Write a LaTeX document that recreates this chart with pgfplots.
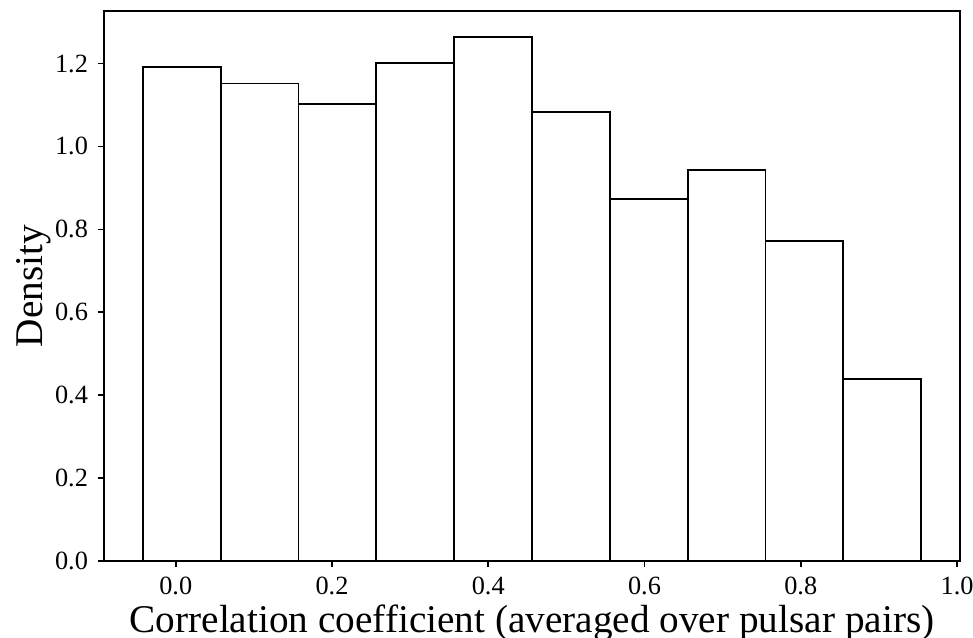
\documentclass[border=0pt]{standalone}
\usepackage{pgfplots}
\pgfplotsset{compat=1.18}
\usepackage{fontspec}
\setmainfont{Liberation Serif}
\begin{document}
\begin{tikzpicture}
\useasboundingbox (-52bp,-38.5bp) rectangle (434.5bp,280.5bp);
\begin{axis}[
  at={(0,0)}, anchor=south west,
  scale only axis,
  width=428bp, height=275bp,
  xmin=-0.0918, xmax=1.0038,
  ymin=0, ymax=1.3267,
  axis line style={line width=0.9bp},
  xtick={0,0.2,0.4,0.6,0.8,1.0},
  ytick={0,0.2,0.4,0.6,0.8,1.0,1.2},
  xtick pos=bottom, ytick pos=left,
  tick align=outside,
  major tick length=3bp,
  tick style={line width=0.8bp, black},
  /pgf/number format/assume math mode=true,
  /pgf/number format/fixed,
  /pgf/number format/fixed zerofill,
  /pgf/number format/precision=1,
  tick label style={font=\fontsize{13.2}{14}\selectfont},
  xticklabel style={yshift=-1.5bp},
  yticklabel style={xshift=-1.5bp},
  xlabel={Correlation coefficient (averaged over pulsar pairs)},
  ylabel={Density},
  every axis x label/.style={at={(axis description cs:0.5,0)}, anchor=base, yshift=-35.5bp, font=\fontsize{19.7}{22}\selectfont, inner sep=0pt},
  every axis y label/.style={at={(axis description cs:-0.0724,0.5)}, rotate=90, anchor=base, font=\fontsize{19.7}{22}\selectfont, inner sep=0pt},
]
\addplot[ybar interval, fill=white, draw=black, line width=0.9bp] coordinates {
  (-0.042, 1.192)
  (0.0576, 1.152)
  (0.1572, 1.102)
  (0.2568, 1.2015)
  (0.3564, 1.2635)
  (0.456, 1.0823)
  (0.5556, 0.8723)
  (0.6552, 0.943)
  (0.7548, 0.772)
  (0.8544, 0.4394)
  (0.954, 0.4394)
};
\end{axis}
\end{tikzpicture}
\end{document}
